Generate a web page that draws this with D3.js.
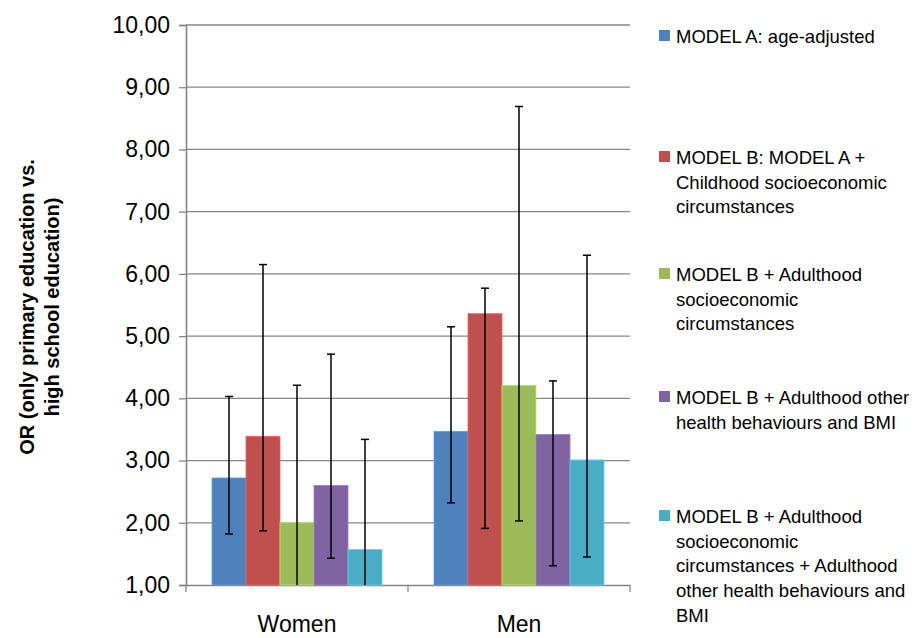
<!DOCTYPE html>
<html>
<head>
<meta charset="utf-8">
<script src="https://cdn.jsdelivr.net/npm/d3@7"></script>
<style>
  body { margin: 0; background: #fff; }
  text { font-family: "Liberation Sans", Arial, sans-serif; fill: #000; }
</style>
</head>
<body>
<div id="chart"></div>
<script>
// categories and series
var groups = ["Women", "Men"];
var models = [
  "MODEL A: age-adjusted",
  "MODEL B: MODEL A + Childhood socioeconomic circumstances",
  "MODEL B + Adulthood socioeconomic circumstances",
  "MODEL B + Adulthood other health behaviours and BMI",
  "MODEL B + Adulthood socioeconomic circumstances + Adulthood other health behaviours and BMI"
];
// legend lines as wrapped in the picture
var legendLines = [
  ["MODEL A: age-adjusted"],
  ["MODEL B: MODEL A +", "Childhood socioeconomic", "circumstances"],
  ["MODEL B + Adulthood", "socioeconomic", "circumstances"],
  ["MODEL B + Adulthood other", "health behaviours and BMI"],
  ["MODEL B + Adulthood", "socioeconomic", "circumstances + Adulthood", "other health  behaviours and", "BMI"]
];
var colors = ["#4F81BD", "#C0504D", "#9BBB59", "#8064A2", "#4BACC6"];

// odds ratios per group (order of models)
var orWomen = [2.72, 3.39, 2.00, 2.60, 1.57];
var orMen   = [3.47, 5.36, 4.21, 3.42, 3.01];
// 95% CI
var lowWomen  = [1.82, 1.87, 0.90, 1.43, 0.90];
var highWomen = [4.03, 6.15, 4.21, 4.71, 3.34];
var lowMen    = [2.32, 1.91, 2.03, 1.31, 1.45];
var highMen   = [5.15, 5.77, 8.69, 4.28, 6.30];

var yTicks = [1, 2, 3, 4, 5, 6, 7, 8, 9, 10];

var data = [];
groups.forEach(function (g, gi) {
  var or = gi === 0 ? orWomen : orMen;
  var lo = gi === 0 ? lowWomen : lowMen;
  var hi = gi === 0 ? highWomen : highMen;
  models.forEach(function (m, mi) {
    data.push({ group: g, model: mi, value: or[mi], low: lo[mi], high: hi[mi] });
  });
});

var margin = { top: 25, right: 290, bottom: 53, left: 186 },
    width = 920 - margin.left - margin.right,
    height = 638 - margin.top - margin.bottom;

var svg = d3.select("#chart")
  .append("svg")
  .attr("width", 920)
  .attr("height", 638)
  .append("g")
  .attr("transform", "translate(" + margin.left + "," + margin.top + ")");

var x0 = d3.scaleBand()
  .domain(groups)
  .range([0, width])
  .paddingInner(0)
  .paddingOuter(0);

var x1 = d3.scaleBand()
  .domain(d3.range(models.length))
  .range([26, x0.bandwidth() - 26])
  .padding(0);

var y = d3.scaleLinear()
  .domain([1, 10])
  .range([height, 0]);

var fmt = function (d) { return d3.format(".2f")(d).replace(".", ","); };

// gridlines
svg.append("g")
  .selectAll("line")
  .data(yTicks.slice(1))
  .enter()
  .append("line")
  .attr("x1", 0)
  .attr("x2", width)
  .attr("y1", function (d) { return y(d); })
  .attr("y2", function (d) { return y(d); })
  .style("stroke", "#878787")
  .style("stroke-width", 1.3);

// y axis
var yAxis = svg.append("g")
  .call(d3.axisLeft(y).tickValues(yTicks).tickFormat(fmt).tickSize(7).tickPadding(9));
yAxis.select(".domain").style("stroke", "#868686").style("stroke-width", 1.6);
yAxis.selectAll(".tick line").style("stroke", "#868686").style("stroke-width", 1.3);
yAxis.selectAll(".tick text")
  .style("font-size", "23px")
  .style("font-family", "'Liberation Sans', Arial, sans-serif")
  .attr("fill", "#000");

// x axis
var xAxis = svg.append("g")
  .attr("transform", "translate(0," + height + ")")
  .call(d3.axisBottom(x0).tickSize(0).tickPadding(31));
xAxis.select(".domain").style("stroke", "#868686").style("stroke-width", 1.6);
xAxis.selectAll(".tick text")
  .style("font-size", "23px")
  .style("font-family", "'Liberation Sans', Arial, sans-serif")
  .attr("fill", "#000");

// category separator ticks
svg.append("g")
  .selectAll("line")
  .data([0, 1, 2])
  .enter()
  .append("line")
  .attr("x1", function (d) { return d * x0.bandwidth(); })
  .attr("x2", function (d) { return d * x0.bandwidth(); })
  .attr("y1", height)
  .attr("y2", height + 7)
  .style("stroke", "#868686")
  .style("stroke-width", 1.3);

// bars
svg.append("g")
  .selectAll("rect")
  .data(data)
  .enter()
  .append("rect")
  .attr("x", function (d) { return x0(d.group) + x1(d.model); })
  .attr("y", function (d) { return y(d.value); })
  .attr("width", x1.bandwidth())
  .attr("height", function (d) { return y(1) - y(d.value); })
  .style("fill", function (d) { return colors[d.model]; })
  .style("stroke", function (d) { return d3.color(colors[d.model]).brighter(0.6); })
  .style("stroke-width", 0.8);

// error bars, clipped at the axis
svg.append("clipPath")
  .attr("id", "plotclip")
  .append("rect")
  .attr("x", 0)
  .attr("y", -5)
  .attr("width", width)
  .attr("height", height + 5);

var err = svg.append("g").attr("clip-path", "url(#plotclip)");
var cx = function (d) { return x0(d.group) + x1(d.model) + x1.bandwidth() / 2; };

err.selectAll(".stem")
  .data(data)
  .enter()
  .append("line")
  .attr("class", "stem")
  .attr("x1", cx)
  .attr("x2", cx)
  .attr("y1", function (d) { return y(d.low); })
  .attr("y2", function (d) { return y(d.high); })
  .style("stroke", "#000")
  .style("stroke-width", 1.5);

var caps = [];
data.forEach(function (d) { caps.push({ d: d, v: d.high }); caps.push({ d: d, v: d.low }); });
err.selectAll(".cap")
  .data(caps)
  .enter()
  .append("line")
  .attr("class", "cap")
  .attr("x1", function (c) { return cx(c.d) - 4; })
  .attr("x2", function (c) { return cx(c.d) + 4; })
  .attr("y1", function (c) { return y(c.v); })
  .attr("y2", function (c) { return y(c.v); })
  .style("stroke", "#000")
  .style("stroke-width", 1.5);

// y axis label
var yl = svg.append("text")
  .attr("transform", "translate(" + (-margin.left + 34) + "," + (height / 2 + 2) + ") rotate(-90)")
  .attr("text-anchor", "middle")
  .style("font-size", "20px")
  .style("font-weight", "bold");
yl.append("tspan").attr("x", 0).attr("dy", 0).text("OR (only primary education vs.");
yl.append("tspan").attr("x", 0).attr("dy", 25).text("high school education)");

// legend
var legendTop = [36, 157, 274, 397, 516];
var legend = svg.append("g")
  .attr("transform", "translate(" + (width + 29) + "," + (-margin.top) + ")");
legendLines.forEach(function (lines, i) {
  legend.append("rect")
    .attr("x", 0)
    .attr("y", legendTop[i] - 6)
    .attr("width", 11)
    .attr("height", 11)
    .style("fill", colors[i]);
  var t = legend.append("text")
    .attr("x", 17)
    .attr("y", legendTop[i] + 7)
    .style("font-size", "18.5px");
  lines.forEach(function (l, k) {
    t.append("tspan").attr("x", 17).attr("dy", k === 0 ? 0 : 24.7).text(l);
  });
});
</script>
</body>
</html>
